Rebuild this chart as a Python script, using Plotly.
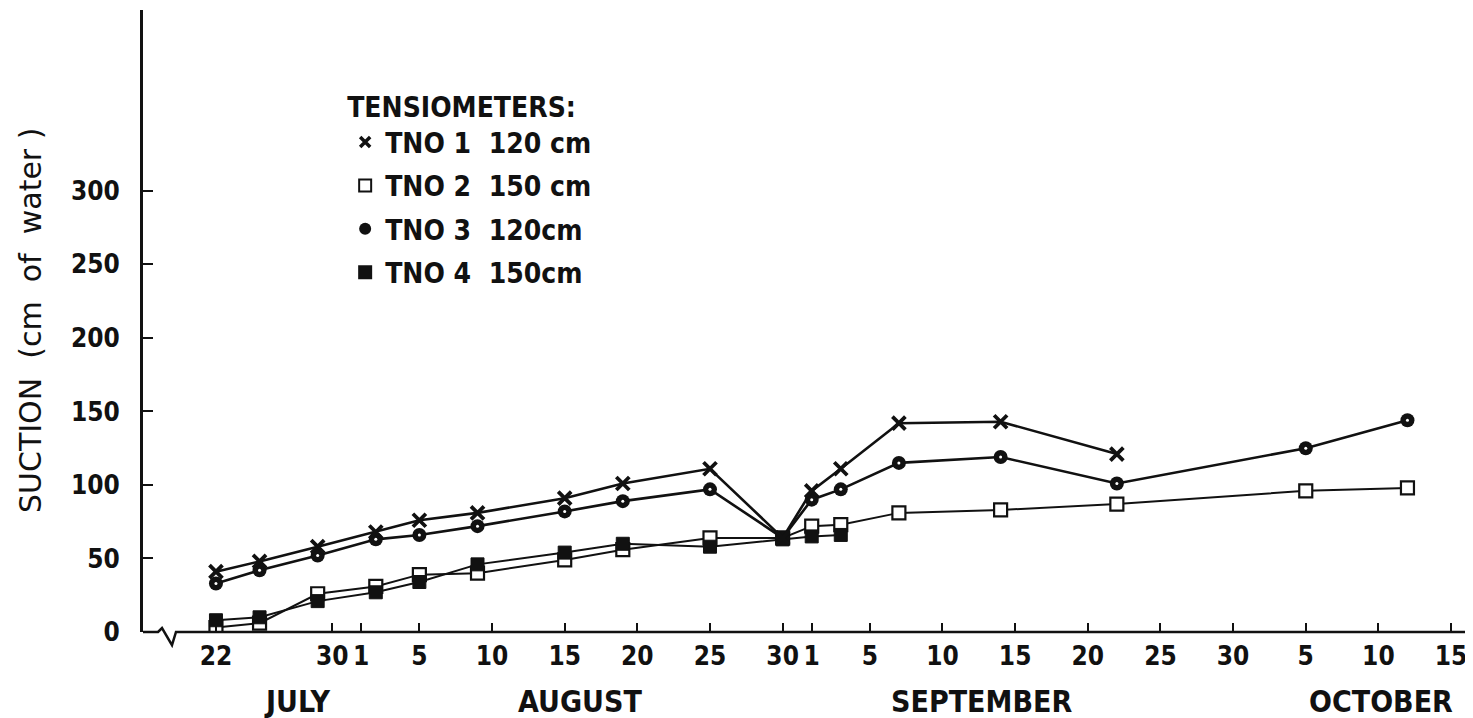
import plotly.graph_objects as go

# ---------------- data ----------------
YEAR = "1975"
dates_all = ["07-22", "07-25", "07-29", "08-02", "08-05", "08-09", "08-15", "08-19",
             "08-25", "08-30", "09-01", "09-03", "09-07", "09-14", "09-22", "10-05", "10-12"]
dates_tno1 = dates_all[:15]
dates_tno4 = dates_all[:12]

tno1 = [41, 48, 58, 68, 76, 81, 91, 101, 111, 64, 96, 111, 142, 143, 121]
tno2 = [3, 6, 26, 31, 39, 40, 49, 56, 64, 64, 72, 73, 81, 83, 87, 96, 98]
tno3 = [33, 42, 52, 63, 66, 72, 82, 89, 97, 64, 90, 97, 115, 119, 101, 125, 144]
tno4 = [8, 10, 21, 27, 34, 46, 54, 60, 58, 63, 65, 66]

legend_names = ["TNO\u00a01\u00a0\u00a0120\u00a0cm", "TNO\u00a02\u00a0\u00a0150\u00a0cm",
                "TNO\u00a03\u00a0\u00a0120cm", "TNO\u00a04\u00a0\u00a0150cm"]

tick_dates = ["07-22", "07-30", "08-01", "08-05", "08-10", "08-15", "08-20", "08-25",
              "08-30", "09-01", "09-05", "09-10", "09-15", "09-20", "09-25", "09-30",
              "10-05", "10-10", "10-15"]
tick_text = ["22", "30", "1", "5", "10", "15", "20", "25", "30", "1", "5", "10", "15",
             "20", "25", "30", "5", "10", "15"]

month_names = ["JULY", "AUGUST", "SEPTEMBER", "OCTOBER"]
month_pos = ["07-27 14:00", "08-16 02:00", "09-12 17:00", "10-10 05:00"]

y_ticks = [0, 50, 100, 150, 200, 250, 300]


def d(s):
    return f"{YEAR}-{s}"


FONT_B = "DejaVu Sans Condensed, DejaVu Sans"
FONT_R = "DejaVu Sans"
BLACK = "#111111"

fig = go.Figure()

# TNO 2 (open squares)
fig.add_trace(go.Scatter(x=[d(s) for s in dates_all], y=tno2, mode="lines+markers",
                         line=dict(color=BLACK, width=2),
                         marker=dict(symbol="square", size=13, color="white",
                                     line=dict(color=BLACK, width=2.2)),
                         showlegend=False))
# TNO 4 (filled squares)
fig.add_trace(go.Scatter(x=[d(s) for s in dates_tno4], y=tno4, mode="lines+markers",
                         line=dict(color=BLACK, width=2),
                         marker=dict(symbol="square", size=13, color=BLACK,
                                     line=dict(color=BLACK, width=1)),
                         showlegend=False))
# TNO 3 (dotted circles)
fig.add_trace(go.Scatter(x=[d(s) for s in dates_all], y=tno3, mode="lines+markers",
                         line=dict(color=BLACK, width=2.6),
                         marker=dict(symbol="circle", size=14, color=BLACK),
                         showlegend=False))
fig.add_trace(go.Scatter(x=[d(s) for s in dates_all], y=tno3, mode="markers",
                         marker=dict(symbol="circle", size=3, color="white"),
                         showlegend=False, hoverinfo="skip"))
# TNO 1 (crosses)
fig.add_trace(go.Scatter(x=[d(s) for s in dates_tno1], y=tno1, mode="lines+markers",
                         line=dict(color=BLACK, width=2.6),
                         marker=dict(symbol="x-thin", size=13,
                                     line=dict(color=BLACK, width=3.8)),
                         showlegend=False))

# legend-only entries (markers only, as in the original key)
legend_markers = [
    dict(symbol="x-thin", size=10, line=dict(color=BLACK, width=3.5)),
    dict(symbol="square", size=12, color="white", line=dict(color=BLACK, width=2)),
    dict(symbol="circle", size=12, color=BLACK),
    dict(symbol="square", size=14, color=BLACK),
]
for i, (nm, mk) in enumerate(zip(legend_names, legend_markers)):
    fig.add_trace(go.Scatter(x=[None], y=[None], mode="markers", marker=mk, name=nm,
                             legendgroup=f"g{i}", showlegend=True))

# month labels
for nm, pos in zip(month_names, month_pos):
    fig.add_annotation(x=d(pos), xref="x", y=0, yref="paper", yshift=-69,
                       xanchor="center", yanchor="middle",
                       text=nm, showarrow=False,
                       font=dict(family=FONT_B, size=30, color=BLACK, weight="bold"))

# y-axis title
fig.add_annotation(x=0, xref="paper", xshift=-113, y=0.5, yref="paper",
                   xanchor="center", yanchor="middle",
                   text="SUCTION\u00a0\u00a0(cm\u00a0 of\u00a0 water\u00a0)", textangle=-90,
                   showarrow=False, font=dict(family=FONT_R, size=30, color=BLACK))

# x-axis line with the break mark
fig.add_shape(type="path", xref="paper", yref="paper",
              path="M 0,0 L 0.0113,0 L 0.0143,0.0064 L 0.0218,-0.021 L 0.0248,0 L 1,0",
              line=dict(color=BLACK, width=2.5))

fig.update_layout(
    width=1473, height=718,
    margin=dict(l=135, r=8, t=2, b=94),
    plot_bgcolor="white", paper_bgcolor="white",
    font=dict(family=FONT_B, color=BLACK),
    showlegend=True,
    legend=dict(x=0.152, y=0.886, xanchor="left", yanchor="top",
                bgcolor="rgba(0,0,0,0)", traceorder="grouped", tracegroupgap=4,
                title=dict(text="TENSIOMETERS:",
                           font=dict(family=FONT_B, size=28, color=BLACK, weight="bold")),
                font=dict(family=FONT_B, size=28, color=BLACK, weight="bold")),
    xaxis=dict(type="date", range=[d("07-16 23:30"), d("10-16 12:15")],
               tickmode="array", tickvals=[d(s) for s in tick_dates], ticktext=tick_text,
               ticks="inside", ticklen=9, tickwidth=2, tickcolor=BLACK,
               showline=False, showgrid=False, zeroline=False,
               tickfont=dict(family=FONT_B, size=26, color=BLACK, weight="bold"),
               ticklabelstandoff=6),
    yaxis=dict(range=[0, 423], tickmode="array", tickvals=y_ticks,
               ticks="inside", ticklen=10, tickwidth=2, tickcolor=BLACK,
               showline=True, linewidth=3, linecolor=BLACK,
               showgrid=False, zeroline=False,
               tickfont=dict(family=FONT_B, size=26, color=BLACK, weight="bold"),
               ticklabelstandoff=15),
)

fig.write_html("out.html")
